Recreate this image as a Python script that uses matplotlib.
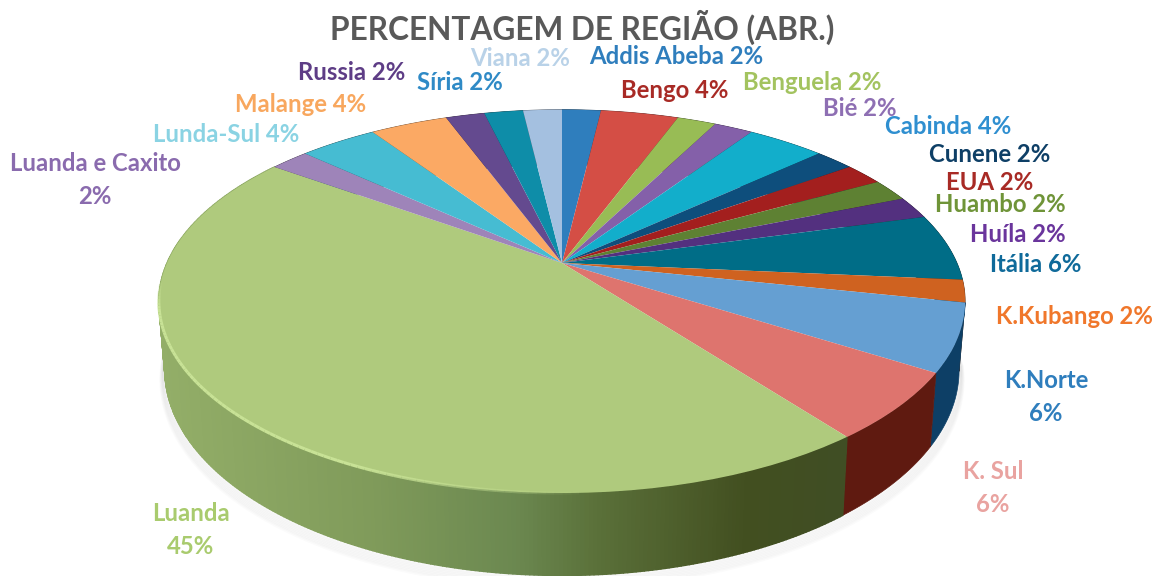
import matplotlib
matplotlib.use('Agg')
import matplotlib.pyplot as plt
import numpy as np
from matplotlib.colors import to_rgb
from matplotlib.transforms import Transform

plt.rcParams['font.family'] = ['Lato', 'DejaVu Sans']

regions = ['Addis Abeba', 'Bengo', 'Benguela', 'Bié', 'Cabinda', 'Cunene', 'EUA', 'Huambo', 'Huíla',
           'Itália', 'K.Kubango', 'K.Norte', 'K. Sul', 'Luanda', 'Luanda e Caxito', 'Lunda-Sul',
           'Malange', 'Russia', 'Síria', 'Viana']
counts = [1, 2, 1, 1, 2, 1, 1, 1, 1, 3, 1, 3, 3, 24, 1, 2, 2, 1, 1, 1]
labels = ['Addis Abeba 2%', 'Bengo 4%', 'Benguela 2%', 'Bié 2%', 'Cabinda 4%', 'Cunene 2%', 'EUA 2%',
          'Huambo 2%', 'Huíla 2%', 'Itália 6%', 'K.Kubango 2%', 'K.Norte\n6%', 'K. Sul\n6%', 'Luanda\n45%',
          'Luanda e Caxito\n2%', 'Lunda-Sul 4%', 'Malange 4%', 'Russia 2%', 'Síria 2%', 'Viana 2%']
top_colors = ['#2F7EBD', '#D44E45', '#98BC55', '#8460A9', '#12AECB', '#0E4E7C', '#A31F1E', '#5E8133',
              '#53307F', '#006D87', '#CF6220', '#659FD2', '#DE746E', '#AFCA7D', '#9E84B9', '#46BCD2',
              '#FBA964', '#644A8F', '#0E8DA8', '#A4C0E0']
text_colors = ['#2F7EBD', '#A82A25', '#A3C35F', '#8E6FB3', '#2F8FD0', '#0E3F66', '#A82A25', '#6F9438',
               '#6A359C', '#0F6A9A', '#F0772B', '#2F7EBD', '#E9A3A0', '#A9CB6E', '#8A6BAE', '#8AD3E3',
               '#F8A75E', '#5E3D86', '#2F8AC6', '#B9D2E8']
label_x = [676, 675, 812, 860, 948, 990, 990, 1000, 1018, 1036, 1074, 1046, 993, 191, 95, 226, 301, 352, 460, 520]
label_y = [57, 90, 82, 108, 127, 155, 183, 205, 234, 265, 317, 397, 488, 530, 180, 134, 105, 72, 83, 59]

# colour of the big slice's wall along the picture's x axis
wall_x = [165, 379, 517, 600, 746, 840]
wall_colors = ['#93AE68', '#7F9A5A', '#6B8850', '#5A7039', '#424F20', '#404E24']

cx, cy = 562, 263
r = 395
squash = 184
tilt = 0.2
depth = 66


class Perspective(Transform):
    input_dims = 2
    output_dims = 2

    def __init__(self, drop=0, shrink=1.0):
        super().__init__()
        self.drop = drop
        self.shrink = shrink

    def transform_non_affine(self, values):
        x, y = values[:, 0], values[:, 1]
        w = 1 + tilt * y
        px = cx + self.shrink * r * x / w
        py = cy - squash * y / w + self.drop / w
        return np.column_stack([px, py])


def arc(plane, a, b, n):
    t = np.radians(np.linspace(a, b, n))
    return plane.transform_non_affine(np.column_stack([np.cos(t), np.sin(t)]))


fig = plt.figure(figsize=(11.58, 5.76), dpi=100)
ax = fig.add_axes([0, 0, 1, 1])

wedges, _ = ax.pie(counts, startangle=90, counterclock=False, colors=top_colors, radius=1)
ax.set_aspect('auto')
ax.set_xlim(0, 1158)
ax.set_ylim(576, 0)
ax.axis('off')

top_plane = Perspective()
low_plane = Perspective(drop=depth, shrink=0.985)

# soft shadow under the front of the pie
for k in range(1, 9):
    edge = arc(Perspective(drop=depth + k * 1.2, shrink=0.985 + k * 0.0012), 185, 352, 200)
    ax.plot(edge[:, 0], edge[:, 1], color='black', alpha=0.014, lw=2.5, zorder=0)

# side wall
wall_rgb = np.array([to_rgb(c) for c in wall_colors])
for i, wedge in enumerate(wedges):
    if regions[i] == 'Luanda':
        # thin strips so the shading can change along it
        n = 2 * int(wedge.theta2 - wedge.theta1)
        upper = arc(top_plane, wedge.theta1, wedge.theta2, n)
        lower = arc(low_plane, wedge.theta1, wedge.theta2, n)
        for j in range(n - 1):
            xs = [upper[j, 0], upper[j + 1, 0], lower[j + 1, 0], lower[j, 0]]
            ys = [upper[j, 1], upper[j + 1, 1], lower[j + 1, 1], lower[j, 1]]
            col = [np.interp(np.mean(xs), wall_x, wall_rgb[:, c]) for c in range(3)]
            ax.fill(xs, ys, color=col, lw=1, zorder=1)
    else:
        upper = arc(top_plane, wedge.theta1, wedge.theta2, 20)
        lower = arc(low_plane, wedge.theta1, wedge.theta2, 20)
        outline = np.vstack([upper, lower[::-1]])
        if regions[i] == 'K. Sul':
            col = '#5F1A10'
        elif regions[i] == 'K.Norte':
            col = '#0D3F66'
        else:
            col = np.array(to_rgb(top_colors[i])) * 0.45
        ax.fill(outline[:, 0], outline[:, 1], color=col, lw=0.5, zorder=1)

for wedge in wedges:
    wedge.set_transform(top_plane + ax.transData)
    wedge.set_zorder(2)

# pale bevel on the front edge of the big slice, fading out towards the front
rim = arc(top_plane, 186, 272, 90)
for j in range(len(rim) - 1):
    fade = min(1, (len(rim) - j) / 30, (j + 1) / 8)
    ax.plot(rim[j:j + 2, 0], rim[j:j + 2, 1], color='#C8E296', lw=2.2, alpha=fade,
            solid_capstyle='butt', zorder=3)

for name, txt, x, y, c in zip(regions, labels, label_x, label_y, text_colors):
    ax.text(x, y, txt, color=c, fontsize=17.2, fontweight='bold', ha='center', va='center',
            linespacing=1.55, zorder=4)

ax.text(582, 27, 'PERCENTAGEM DE REGIÃO (ABR.)', color='#595959', fontsize=22.8, fontweight='bold',
        ha='center', va='center', zorder=4)

fig.savefig('out.png', dpi=100)
